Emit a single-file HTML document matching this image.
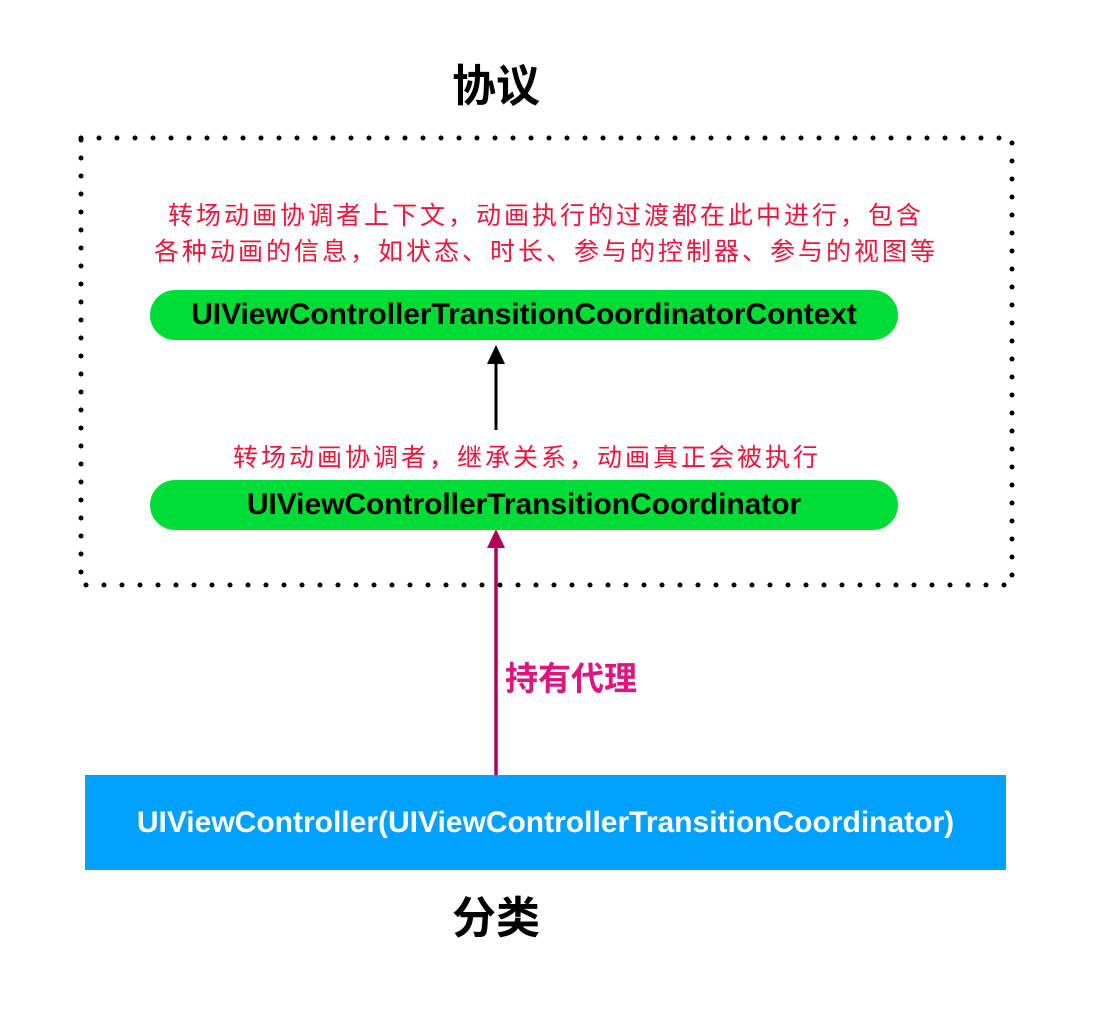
<!DOCTYPE html>
<html><head><meta charset="utf-8"><style>
body{margin:0;width:1118px;height:1020px;background:#fff;position:relative;overflow:hidden;font-family:"Liberation Sans","Noto Sans CJK SC",sans-serif}
.t{position:absolute;white-space:nowrap;text-align:center}
.pill{position:absolute;left:150px;width:748px;height:50px;background:#00dc36;border-radius:25px;font-weight:bold;font-size:30px;line-height:50px;text-align:center;color:#000;letter-spacing:-0.05px}
.red{color:#f0143c;font-size:25px;letter-spacing:3px;font-family:"Noto Sans CJK SC",sans-serif}
</style></head><body>
<div class="t" style="left:396px;width:200px;top:50px;font-size:44px;font-weight:bold;font-family:'Noto Sans CJK SC',sans-serif">协议</div>
<svg width="1118" height="1020" style="position:absolute;left:0;top:0">
<rect x="81" y="138" width="931" height="447" fill="none" stroke="#000" stroke-width="5" stroke-linecap="round" stroke-dasharray="0 18"/>
<line x1="496" y1="430" x2="496" y2="360" stroke="#000" stroke-width="3"/>
<polygon points="496,345 487,364 505,364" fill="#000"/>
<line x1="496" y1="775" x2="496" y2="545" stroke="#b0005a" stroke-width="3.5"/>
<polygon points="496,529 487,548 505,548" fill="#b0005a"/>
</svg>
<div class="t red" style="left:0;width:1092px;top:196px;line-height:36px">转场动画协调者上下文，动画执行的过渡都在此中进行，包含<br>各种动画的信息，如状态、时长、参与的控制器、参与的视图等</div>
<div class="pill" style="top:290px">UIViewControllerTransitionCoordinatorContext</div>
<div class="t red" style="left:0;width:1054px;top:438px">转场动画协调者，继承关系，动画真正会被执行</div>
<div class="pill" style="top:480px">UIViewControllerTransitionCoordinator</div>
<div class="t" style="left:505px;top:652px;font-size:33px;font-weight:bold;color:#e0147c;font-family:'Noto Sans CJK SC',sans-serif">持有代理</div>
<div style="position:absolute;left:85px;top:775px;width:921px;height:95px;background:#00a0ff;color:#fff;font-weight:bold;font-size:30px;line-height:95px;text-align:center">UIViewController(UIViewControllerTransitionCoordinator)</div>
<div class="t" style="left:396px;width:200px;top:882px;font-size:44px;font-weight:bold;font-family:'Noto Sans CJK SC',sans-serif">分类</div>
</body></html>
